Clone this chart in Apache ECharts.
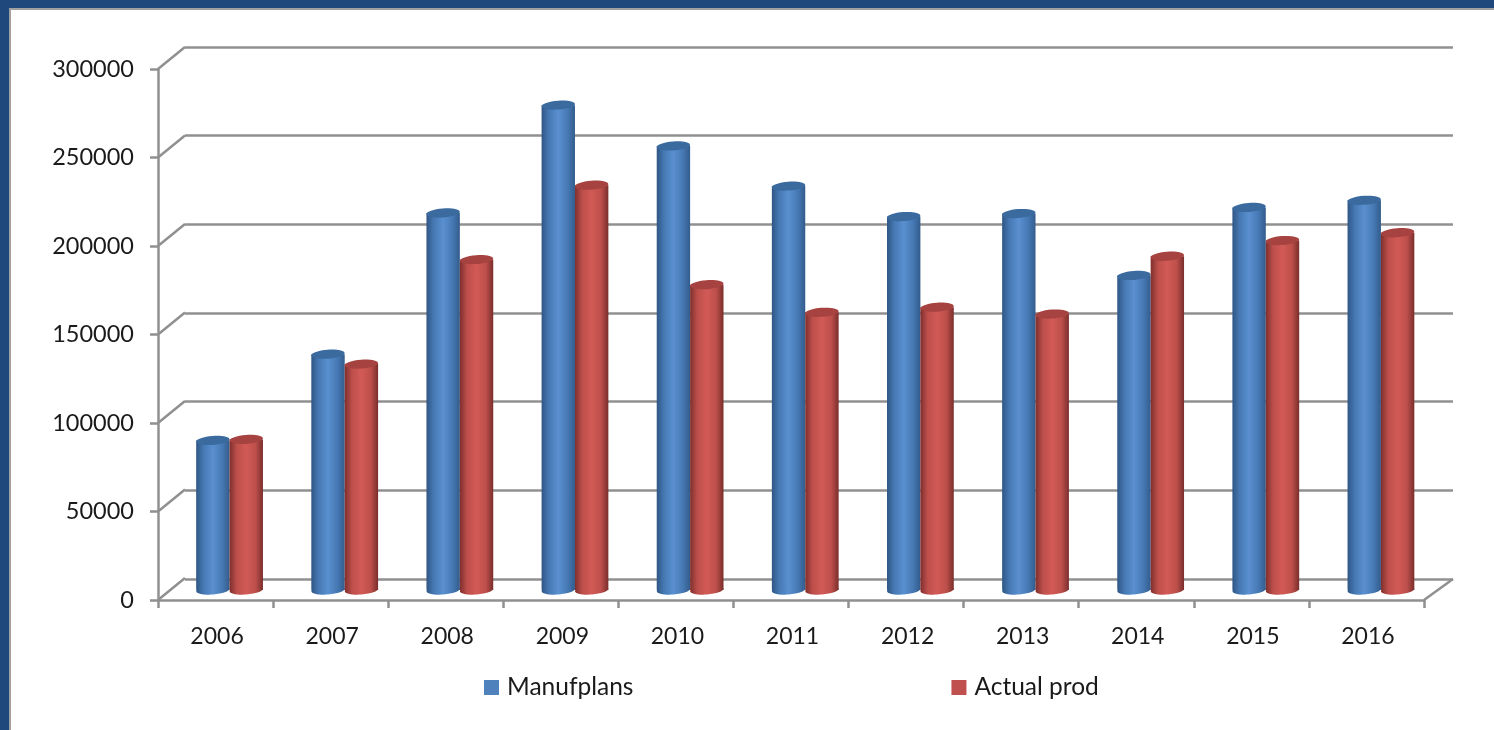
<!DOCTYPE html>
<html><head><meta charset="utf-8">
<style>
html,body{margin:0;padding:0;background:#fff;overflow:hidden}
#frame{position:absolute;left:0;top:0;width:1494px;height:730px;box-sizing:border-box;border-top:8px solid #1f497d;border-left:9px solid #1f497d;box-shadow:inset 2px 2px 0 #a0a0a0}
#c{position:absolute;left:0;top:0;width:1494px;height:730px}
</style>
<script src="https://cdn.jsdelivr.net/npm/echarts@6/dist/echarts.min.js"></script>
</head><body><div id="frame"></div><div id="c"></div>
<script>
const years = ['2006','2007','2008','2009','2010','2011','2012','2013','2014','2015','2016'];
const manufplans = [84000,132500,211800,272400,249500,226900,209800,211500,176700,214900,218900];
const actualProd = [84600,126900,185600,227400,171500,156000,158900,155000,187500,196300,200700];
const yTicks = [0,50000,100000,150000,200000,250000,300000];

const chart = echarts.init(document.getElementById('c'), null, {renderer:'canvas'});
const GRAY = '#909090', FONT = 'Lato', TXT = '#1a1a1a', LW = 2.5;

function cyl(side, edgeL, mid, edgeR, cap, base) {
  return function (params, api) {
    const idx = api.value(0), v = api.value(1);
    const top = api.coord([idx, v]), bot = api.coord([idx, 0]);
    const w = api.size([1, 0])[0] * 0.29;
    const x = side < 0 ? top[0] - w : top[0];
    const fill = new echarts.graphic.LinearGradient(0, 0, 1, 0, [
      {offset: 0, color: edgeL}, {offset: 0.22, color: base}, {offset: 0.5, color: mid},
      {offset: 0.78, color: base}, {offset: 1, color: edgeR}
    ]);
    const rx = w / 2, ry = 4.5, cx = x + rx, rot = 0.07;
    return {type: 'group', children: [
      {type: 'ellipse', shape: {cx: 0, cy: 0, rx: rx, ry: ry}, x: cx, y: bot[1], rotation: rot, style: {fill: fill}},
      {type: 'rect', shape: {x: x, y: top[1], width: w, height: bot[1] - top[1]}, style: {fill: fill}},
      {type: 'ellipse', shape: {cx: 0, cy: 0, rx: rx, ry: ry}, x: cx, y: top[1], rotation: rot, style: {fill: cap}}
    ]};
  };
}

function diag(params, api) {
  const cs = params.coordSys, v = api.value(1), y = api.coord([0, v])[1];
  const kids = [{type: 'line', shape: {x1: cs.x, y1: y, x2: cs.x + 27, y2: y - 22}, style: {stroke: GRAY, lineWidth: LW}}];
  if (v === 0) kids.push({type: 'line', shape: {x1: cs.x + cs.width, y1: y, x2: cs.x + cs.width + 29, y2: y - 21}, style: {stroke: GRAY, lineWidth: LW}});
  return {type: 'group', children: kids};
}

const hiddenX = i => ({gridIndex: i, type: 'category', data: years, show: false});
const hiddenY = (i, split) => ({gridIndex: i, type: 'value', min: 0, max: 300000, interval: 50000,
  axisLine: {show: false}, axisTick: {show: false}, axisLabel: {show: false},
  splitLine: {show: split, lineStyle: {color: GRAY, width: LW}}});

chart.setOption({
  animation: false,
  backgroundColor: 'transparent',
  grid: [
    {left: 158, right: 70, top: 69, bottom: 130},
    {left: 185, right: 41, top: 47, bottom: 151},
    {left: 172, right: 55.5, top: 56, bottom: 140}
  ],
  legend: {
    data: [
      {name: 'Manufplans', itemStyle: {color: '#4f81bd'}},
      {name: 'Actual prod', itemStyle: {color: '#c0504d'}}
    ],
    left: 479, top: 670, icon: 'rect', itemWidth: 15, itemHeight: 15, itemGap: 318,
    textStyle: {fontFamily: FONT, fontSize: 24.5, color: TXT, padding: [0, 0, 0, 3]}
  },
  xAxis: [
    {gridIndex: 0, type: 'category', data: years, boundaryGap: true,
     axisLine: {lineStyle: {color: GRAY, width: LW}},
     axisTick: {show: true, length: 8, lineStyle: {color: GRAY, width: LW}},
     axisLabel: {fontFamily: FONT, fontSize: 23, color: TXT, margin: 25, padding: [0, 0, 0, 3]}},
    hiddenX(1), hiddenX(2)
  ],
  yAxis: [
    {gridIndex: 0, type: 'value', min: 0, max: 300000, interval: 50000,
     axisLine: {show: true, lineStyle: {color: GRAY, width: LW}},
     axisTick: {show: true, length: 8, lineStyle: {color: GRAY, width: LW}},
     axisLabel: {fontFamily: FONT, fontSize: 23.5, color: TXT, margin: 24, padding: [14, 0, 0, 0], formatter: v => String(v)},
     splitLine: {show: false}},
    hiddenY(1, true), hiddenY(2, false)
  ],
  series: [
    {type: 'custom', name: 'walls', xAxisIndex: 0, yAxisIndex: 0, silent: true, z: 1,
     data: yTicks.map(t => [0, t]), renderItem: diag, clip: false},
    {type: 'custom', name: 'Manufplans', xAxisIndex: 2, yAxisIndex: 2, z: 3, clip: false,
     itemStyle: {color: '#4f81bd'},
     data: manufplans.map((v, i) => [i, v]),
     renderItem: cyl(-1, '#2f5684', '#5a90d0', '#335c8c', '#3b6a9f', '#4679b4')},
    {type: 'custom', name: 'Actual prod', xAxisIndex: 2, yAxisIndex: 2, z: 4, clip: false,
     itemStyle: {color: '#c0504d'},
     data: actualProd.map((v, i) => [i, v]),
     renderItem: cyl(1, '#7f2f2d', '#d25a56', '#7a2e2c', '#a64340', '#bd4f4b')}
  ]
});
</script></body></html>
